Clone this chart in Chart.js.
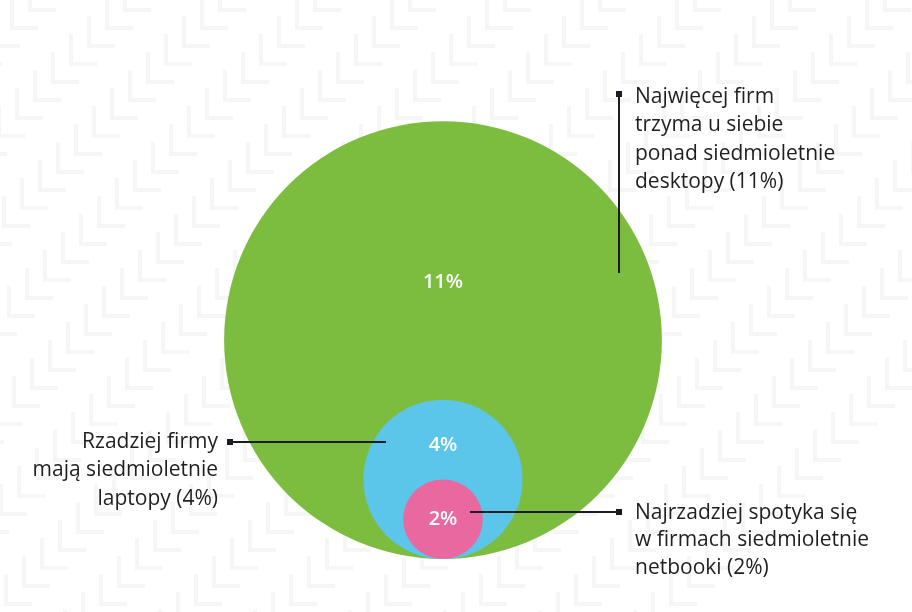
<!DOCTYPE html>
<html>
<head>
<meta charset="utf-8">
<script src="https://cdn.jsdelivr.net/npm/chart.js@4.4.0/dist/chart.umd.min.js"></script>
<style>
  html, body { margin: 0; padding: 0; background: #fff; }
  #wrap { width: 912px; height: 612px; }
</style>
</head>
<body>
<div id="wrap"><canvas id="myChart" width="912" height="612"></canvas></div>
<script>
// share of firms keeping 7+ year old devices, %
const categories = ["desktopy", "laptopy", "netbooki"];
const values = [11, 4, 2];
const valueLabels = ["11%", "4%", "2%"];
const colors = ["#7cbd40", "#5cc5ea", "#e8689f"];

const notes = [
  ["Najwięcej firm", "trzyma u siebie", "ponad siedmioletnie", "desktopy (11%)"],
  ["Rzadziej firmy", "mają siedmioletnie", "laptopy (4%)"],
  ["Najrzadziej spotyka się", "w firmach siedmioletnie", "netbooki (2%)"]
];

// pixels per percentage point, same on both axes so circles stay round
const pxPerUnit = 19.9;

// faint herringbone background
const bgPattern = {
  id: 'bgPattern',
  beforeDraw(chart) {
    const ctx = chart.ctx;
    ctx.save();
    ctx.fillStyle = '#ffffff';
    ctx.fillRect(0, 0, chart.width, chart.height);
    ctx.strokeStyle = 'rgba(0,0,0,0.035)';
    ctx.lineWidth = 4;
    for (let cx = -200; cx < chart.width + 400; cx += 95) {
      for (let k = 0; k < 40; k++) {
        const x = cx - 18 * k + 40;
        const y = -20 + 18 * k;
        ctx.beginPath();
        ctx.moveTo(x, y);
        ctx.lineTo(x, y + 30);
        ctx.lineTo(x + 26, y + 30);
        ctx.stroke();
      }
    }
    ctx.restore();
  }
};

const labelsAndNotes = {
  id: 'labelsAndNotes',
  afterDatasetsDraw(chart) {
    const ctx = chart.ctx;
    const pts = chart.getDatasetMeta(0).data;
    const dy = [-58, -34, 0];
    ctx.save();
    ctx.fillStyle = '#ffffff';
    ctx.font = '600 20px "Open Sans"';
    ctx.textAlign = 'center';
    ctx.textBaseline = 'middle';
    pts.forEach((p, i) => {
      ctx.fillText(valueLabels[i], p.x, p.y + dy[i]);
    });

    // leader lines
    ctx.strokeStyle = '#1c1c24';
    ctx.fillStyle = '#1c1c24';
    ctx.lineWidth = 2;
    ctx.beginPath();
    ctx.moveTo(619, 94); ctx.lineTo(619, 273);
    ctx.moveTo(230, 442); ctx.lineTo(386, 442);
    ctx.moveTo(pts[2].x + 27, 512); ctx.lineTo(619, 512);
    ctx.stroke();
    ctx.fillRect(616, 91, 6, 6);
    ctx.fillRect(227, 439, 6, 6);
    ctx.fillRect(616, 509, 6, 6);

    // note texts
    ctx.fillStyle = '#1f1f1f';
    ctx.font = '500 21px "Open Sans"';
    ctx.textAlign = 'left';
    notes[0].forEach((t, i) => ctx.fillText(t, 635, 97 + i * 28.3));
    ctx.textAlign = 'right';
    notes[1].forEach((t, i) => ctx.fillText(t, 218, 442 + i * 28.3));
    ctx.textAlign = 'left';
    notes[2].forEach((t, i) => ctx.fillText(t, 635, 513 + i * 27.5));
    ctx.restore();
  }
};

const ctx = document.getElementById('myChart').getContext('2d');
const myChart = new Chart(ctx, {
  type: 'bubble',
  data: {
    labels: categories,
    datasets: [{
      label: 'Siedmioletnie urządzenia',
      // circles sit on y = 0, radius equals the value in y units
      data: values.map(v => ({ x: 0, y: v, r: v * pxPerUnit })),
      backgroundColor: colors,
      borderWidth: 0,
      hoverRadius: 0
    }]
  },
  options: {
    responsive: false,
    animation: false,
    layout: { padding: 0, autoPadding: false },
    plugins: {
      legend: { display: false },
      tooltip: { enabled: false }
    },
    scales: {
      x: { display: false, min: -443 / pxPerUnit, max: 469 / pxPerUnit },
      y: { display: false, min: -53 / pxPerUnit, max: 559 / pxPerUnit }
    }
  },
  plugins: [bgPattern, labelsAndNotes]
});
</script>
</body>
</html>
